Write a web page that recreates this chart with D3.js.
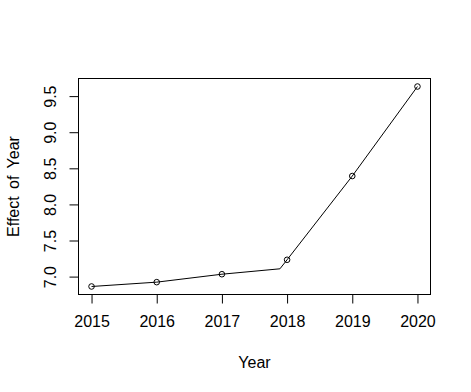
<!DOCTYPE html>
<html><head><meta charset="utf-8">
<script src="https://cdn.jsdelivr.net/npm/d3@7"></script>
<style>body{margin:0;background:#fff}text{font-family:"Liberation Sans",Arial,sans-serif}</style>
</head><body>
<svg id="c" width="471" height="392"></svg>
<script>
const years = [2015, 2016, 2017, 2018, 2019, 2020];
const effects = [6.87, 6.93, 7.04, 7.24, 8.40, 9.64];
const curveX = [2015, 2016, 2017, 2017.89, 2018, 2019, 2020];
const curveY = [6.87, 6.93, 7.04, 7.115, 7.24, 8.40, 9.64];
const xTicks = [2015, 2016, 2017, 2018, 2019, 2020];
const yTicks = [7.0, 7.5, 8.0, 8.5, 9.0, 9.5];

const svg = d3.select("#c");
const L = 78.5, R = 430.5, T = 78.5, B = 294.5;
const x = d3.scaleLinear().domain([2014.8, 2020.2]).range([L, R]);
const y = d3.scaleLinear().domain([6.759, 9.751]).range([B, T]);

svg.append("rect").attr("x", L).attr("y", T).attr("width", R - L).attr("height", B - T)
  .attr("fill", "none").attr("stroke", "#000").attr("stroke-width", 1);

const xa = svg.append("g").attr("transform", `translate(0,${B})`)
  .call(d3.axisBottom(x).tickValues(xTicks).tickFormat(d3.format("d")).tickSize(9).tickPadding(12));
const ya = svg.append("g").attr("transform", `translate(${L},0)`)
  .call(d3.axisLeft(y).tickValues(yTicks).tickFormat(d3.format(".1f")).tickSize(9).tickPadding(0));
[xa, ya].forEach(a => {
  a.select(".domain").remove();
  a.selectAll("line").attr("stroke", "#000");
  a.selectAll("text").attr("fill", "#000").style("font-size", "16px")
    .style("font-family", '"Liberation Sans",Arial,sans-serif');
});
ya.selectAll("text").attr("x", null).attr("dy", null)
  .attr("text-anchor", "middle")
  .attr("transform", d => `translate(-28,${y(d)}) rotate(-90)`)
  .attr("y", 0).attr("dy", "0.35em");
ya.selectAll(".tick").attr("transform", null);
ya.selectAll(".tick line").attr("transform", d => `translate(0,${y(d)})`);

const line = d3.line().x(d => x(d[0])).y(d => y(d[1]));
svg.append("path").datum(curveX.map((v, i) => [v, curveY[i]]))
  .attr("d", line).attr("fill", "none").attr("stroke", "#000").attr("stroke-width", 1);

svg.selectAll("circle.p").data(years).enter().append("circle")
  .attr("cx", d => x(d)).attr("cy", (d, i) => y(effects[i])).attr("r", 2.8)
  .attr("fill", "none").attr("stroke", "#000").attr("stroke-width", 1);

svg.append("text").attr("x", (L + R) / 2).attr("y", 368).attr("text-anchor", "middle")
  .style("font-size", "16px").text("Year");
svg.append("text").attr("transform", `translate(19,${(T + B) / 2}) rotate(-90)`)
  .attr("text-anchor", "middle").style("font-size", "16px").style("word-spacing", "3px")
  .text("Effect of Year");
</script>
</body></html>
